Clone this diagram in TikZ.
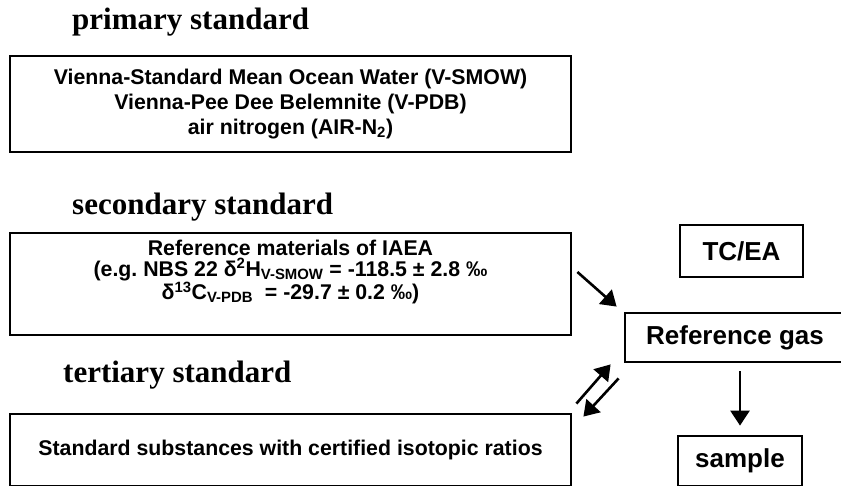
\documentclass[tikz,border=0pt]{standalone}
\usepackage{fontspec}
\setmainfont{Liberation Serif}
\setsansfont{Liberation Sans}
\usepackage{tikz}
\usetikzlibrary{positioning,arrows.meta}
\frenchspacing

\begin{document}
\begin{tikzpicture} [x=1pt, y=-1pt,
	title/.style={anchor=base west, inner sep=0pt, font=\fontsize{31}{36}\selectfont\rmfamily\bfseries},
	stdbox/.style={draw=black, line width=2.8pt, minimum width=561pt, inner sep=0pt, align=center, font=\fontsize{21.3}{25}\selectfont\sffamily\bfseries},
	gasbox/.style={draw=black, line width=2.8pt, minimum height=50pt, inner sep=0pt, font=\fontsize{26}{30}\selectfont\sffamily\bfseries},
	flow/.style={line width=2.6pt, -{Triangle[length=15pt,width=19pt]}}]
	\useasboundingbox (0,0) rectangle (841,486);
	\clip (0,0) rectangle (841,486);
	\fill [white] (0,0) rectangle (841,486);

	\node [title] (prim) at (72,30) {primary standard};
	\node [stdbox, minimum height=96pt] (primbox) at (290.5,104) {Vienna-Standard Mean Ocean Water (V-SMOW)\\Vienna-Pee Dee Belemnite (V-PDB)\\air nitrogen (AIR-N\textsubscript{2})};

	\node [title] (sec) at (72,215) {secondary standard};
	\node [stdbox, minimum height=102pt] (secbox) at (290.5,284) {};
	\node [stdbox, draw=none, minimum width=0pt, anchor=north, font=\fontsize{21.3}{21}\selectfont\sffamily\bfseries] (sectext) at ([shift={(0,7)}]secbox.north) {Reference materials of IAEA\\(e.g. NBS 22 δ\textsuperscript{2}H\textsubscript{V-SMOW} = -118.5 ± 2.8 ‰\\δ\textsuperscript{13}C\textsubscript{V-PDB} \ = -29.7 ± 0.2 ‰)};

	\node [title] (ter) at (63,382) {tertiary standard};
	\node [stdbox, minimum height=72pt] (terbox) at (290.5,450) {Standard substances with certified isotopic ratios};

	\node [gasbox, minimum width=123pt, minimum height=52pt] (tcea) at (741.5,251) {TC/EA};
	\node [gasbox, minimum width=220pt, minimum height=49pt] (ref) at (735,337.5) {Reference gas};
	\node [gasbox, minimum width=124pt] (sample) at (740,461) {sample};

	\draw [flow] ([shift={(5,-12)}]secbox.east) -- ([shift={(-7,-5)}]ref.north west);
	\draw [flow, shorten <=8pt, shorten >=9pt] (sample.north |- ref.south) -- (sample.north);
	\draw [flow] ([shift={(4,-9)}]terbox.north east) -- ([shift={(-13,1)}]ref.south west);
	\draw [flow] ([shift={(-5,15)}]ref.south west) -- ([shift={(11,4)}]terbox.north east);
\end{tikzpicture}
\end{document}
